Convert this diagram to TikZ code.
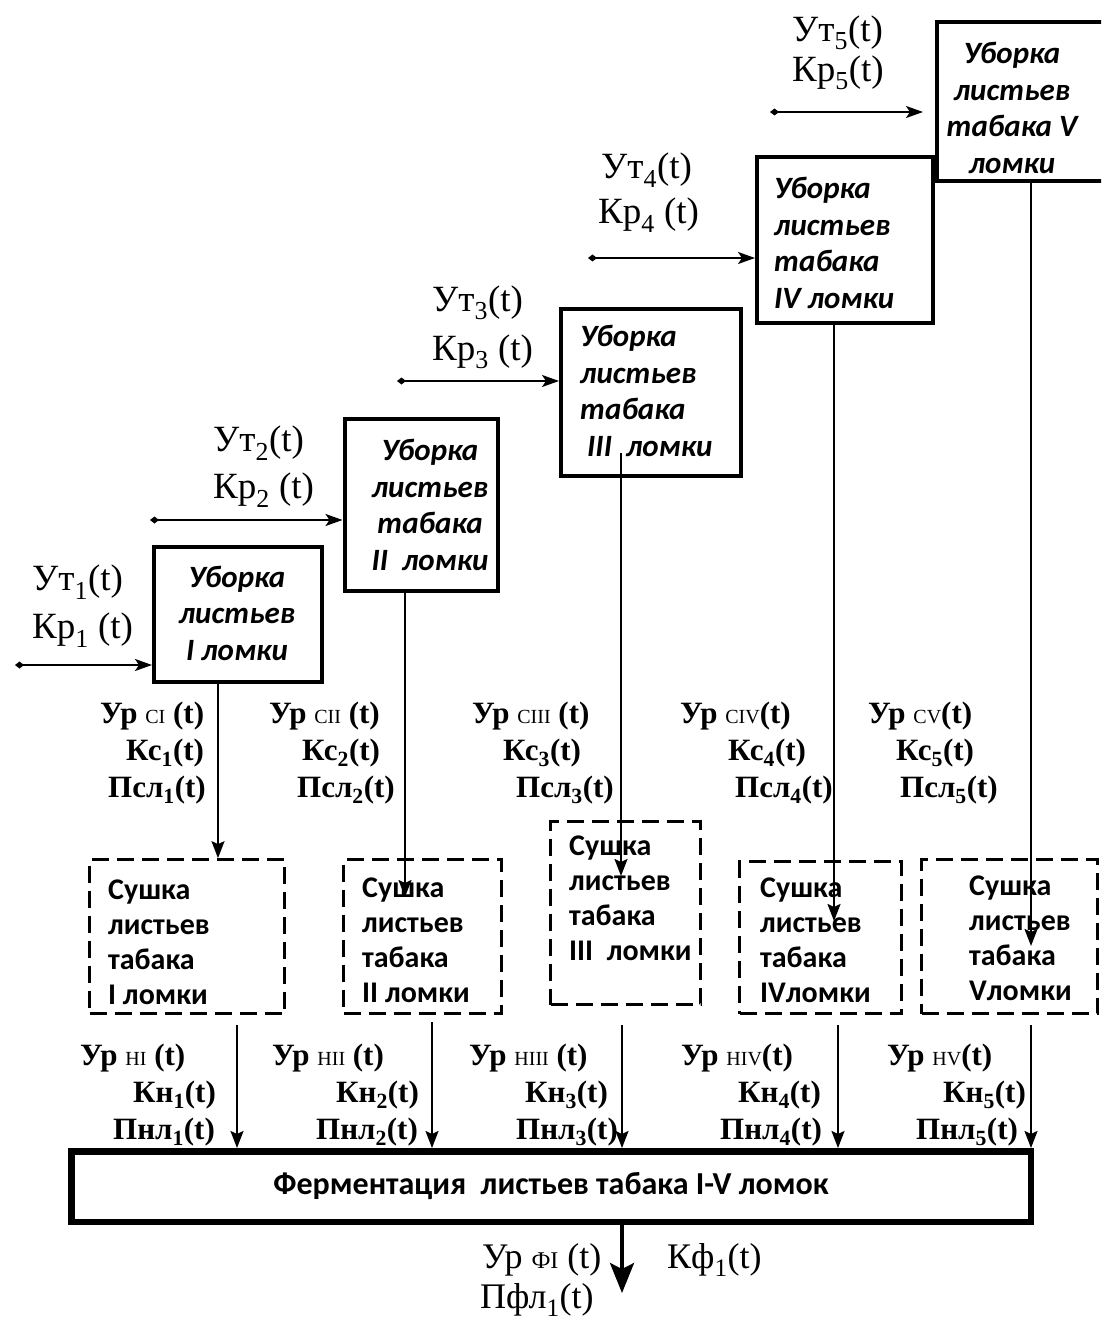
\documentclass[tikz,border=0pt]{standalone}
\usepackage{fontspec}
\setmainfont{Liberation Serif}
\newfontfamily\carlito{Carlito}
\usetikzlibrary{arrows.meta}
\newcommand\idx[1]{{\fontsize{20}{20}\selectfont\mdseries #1}}
\newcommand\oidx[1]{{\fontsize{24}{24}\selectfont\mdseries #1}}
\newcommand\sbs[1]{\textsubscript{#1}}
\begin{document}
\begin{tikzpicture}[x=1pt,y=-1pt,
  ubox/.style={draw, line width=4pt, inner sep=0pt},
  dbox/.style={draw, line width=2.7pt, dash pattern=on 17pt off 8pt, inner sep=0pt},
  fbox/.style={draw, line width=6.5pt, inner sep=0pt},
  btxt/.style={font=\carlito\bfseries\itshape\fontsize{31}{36.5}\selectfont, inner sep=0pt},
  dtxt/.style={font=\carlito\bfseries\fontsize{30}{35}\selectfont, align=left, inner sep=0pt},
  inlab/.style={font=\fontsize{37}{37}\selectfont, anchor=west, inner sep=0pt},
  mlab/.style={font=\bfseries\fontsize{31}{31}\selectfont, anchor=west, inner sep=0pt},
  olab/.style={font=\fontsize{36}{36}\selectfont, anchor=west, inner sep=0pt},
  conn/.style={line width=2pt, -{Stealth[length=17pt,width=13pt,inset=3pt]}},
  inarr/.style={line width=2pt, {Diamond[length=9pt,width=7pt]}-{Stealth[length=17pt,width=12pt,inset=4pt]}},
  outarr/.style={line width=3.5pt, -{Stealth[length=30pt,width=24pt,inset=6pt]}}
]
\useasboundingbox (0,0) rectangle (1101,1321);
\clip (0,0) rectangle (1101,1321);

% upper boxes (harvesting)
\node[ubox, minimum width=168pt, minimum height=135pt] (b1) at (238,614.5) {};
\node[ubox, minimum width=153pt, minimum height=172pt] (b2) at (421,505) {};
\node[ubox, minimum width=180pt, minimum height=167pt] (b3) at (651,392.5) {};
\node[ubox, minimum width=176pt, minimum height=166pt] (b4) at (845,240) {};
\node[ubox, minimum width=191pt, minimum height=159pt] (b5) at (1032.5,101.5) {};

\node[btxt, align=center] (t1) at (237,613) {Уборка\\листьев\\I ломки};
\node[btxt, align=center] (t2) at (430,505) {Уборка\\листьев\\табака\\II\ \ ломки};
\node[btxt, align=left, anchor=west] (t3) at (580,391) {Уборка\\листьев\\табака\\\ III\ \ ломки};
\node[btxt, align=left, anchor=west] (t4) at (774,243) {Уборка\\листьев\\табака\\IV ломки};
\node[btxt, align=center] (t5) at (1012,108) {Уборка\\листьев\\табака V\\ломки};

% input labels
\node[inlab] (u1) at (32,582) {Ут\sbs{1}(t)};
\node[inlab] (k1) at (32,630) {Кр\sbs{1} (t)};
\node[inlab] (u2) at (213,443) {Ут\sbs{2}(t)};
\node[inlab] (k2) at (213,490) {Кр\sbs{2} (t)};
\node[inlab] (u3) at (432,303) {Ут\sbs{3}(t)};
\node[inlab] (k3) at (432,352) {Кр\sbs{3} (t)};
\node[inlab] (u4) at (601,170) {Ут\sbs{4}(t)};
\node[inlab] (k4) at (598,215) {Кр\sbs{4} (t)};
\node[inlab] (u5) at (792,33) {Ут\sbs{5}(t)};
\node[inlab] (k5) at (792,73) {Кр\sbs{5}(t)};

% input arrows
\coordinate (i1) at (15,665);
\coordinate (i2) at (150,520);
\coordinate (i3) at (397,381);
\coordinate (i4) at (588,258);
\coordinate (i5) at (770,112);
\draw[inarr] (i1) -- (i1 -| b1.west);
\draw[inarr] (i2) -- (i2 -| b2.west);
\draw[inarr] (i3) -- (i3 -| b3.west);
\draw[inarr] (i4) -- (i4 -| b4.west);
\draw[inarr, shorten >=12pt] (i5) -- (i5 -| b5.west);

% dashed boxes (drying)
\node[dbox, minimum width=195pt, minimum height=154pt] (d1) at (187,936.5) {};
\node[dbox, minimum width=158pt, minimum height=154pt] (d2) at (422.5,936.5) {};
\node[dbox, minimum width=150pt, minimum height=183pt] (d3) at (625.5,913) {};
\node[dbox, minimum width=162pt, minimum height=152pt] (d4) at (820.5,937.5) {};
\node[dbox, minimum width=176pt, minimum height=154pt] (d5) at (1009.5,936.5) {};

\node[dtxt, anchor=west] (s1) at (108,942) {Сушка\\листьев\\табака\\I ломки};
\node[dtxt, anchor=west] (s2) at (362,940) {Сушка\\листьев\\табака\\II ломки};
\node[dtxt, anchor=west] (s3) at (569,898) {Сушка\\листьев\\табака\\III\ \ ломки};
\node[dtxt, anchor=west] (s4) at (760,940) {Сушка\\листьев\\табака\\IVломки};
\node[dtxt, anchor=west] (s5) at (969,938) {Сушка\\листьев\\табака\\Vломки};

% middle labels
\node[mlab] (m11) at (100,716) {Ур \idx{СI} (t)};
\node[mlab] (m12) at (126,753) {Кс\sbs{1}(t)};
\node[mlab] (m13) at (108,790) {Псл\sbs{1}(t)};
\node[mlab] (m21) at (269,716) {Ур \idx{СII} (t)};
\node[mlab] (m22) at (302,753) {Кс\sbs{2}(t)};
\node[mlab] (m23) at (297,790) {Псл\sbs{2}(t)};
\node[mlab] (m31) at (472,716) {Ур \idx{СIII} (t)};
\node[mlab] (m32) at (503,753) {Кс\sbs{3}(t)};
\node[mlab] (m33) at (516,790) {Псл\sbs{3}(t)};
\node[mlab] (m41) at (680,716) {Ур \idx{СIV}(t)};
\node[mlab] (m42) at (728,753) {Кс\sbs{4}(t)};
\node[mlab] (m43) at (735,790) {Псл\sbs{4}(t)};
\node[mlab] (m51) at (868,716) {Ур \idx{СV}(t)};
\node[mlab] (m52) at (896,753) {Кс\sbs{5}(t)};
\node[mlab] (m53) at (900,790) {Псл\sbs{5}(t)};

% connectors harvesting -> drying
\coordinate (e1) at (218,0);
\coordinate (e2) at (405,897);
\coordinate (g3) at (621,453);
\coordinate (e3) at (621,876);
\coordinate (e4) at (834,921);
\coordinate (e5) at (1031,946);
\draw[conn] (b1.south -| e1) -- (d1.north -| e1);
\draw[conn] (b2.south -| e2) -- (e2);
\draw[conn] (g3) -- (e3);
\draw[conn] (b4.south -| e4) -- (e4);
\draw[conn] (b5.south -| e5) -- (e5);

% fermentation box
\node[fbox, minimum width=959.5pt, minimum height=70.5pt,
      font=\carlito\bfseries\fontsize{32}{32}\selectfont] (f) at (551,1186.5)
      {Ферментация\ \ листьев табака I-V ломок};

% bottom labels
\node[mlab] (n11) at (80,1058) {Ур \idx{НI} (t)};
\node[mlab] (n12) at (133,1095) {Кн\sbs{1}(t)};
\node[mlab] (n13) at (113,1132) {Пнл\sbs{1}(t)};
\node[mlab] (n21) at (272,1058) {Ур \idx{НII} (t)};
\node[mlab] (n22) at (336,1095) {Кн\sbs{2}(t)};
\node[mlab] (n23) at (316,1132) {Пнл\sbs{2}(t)};
\node[mlab] (n31) at (469,1058) {Ур \idx{НIII} (t)};
\node[mlab] (n32) at (525,1095) {Кн\sbs{3}(t)};
\node[mlab] (n33) at (516,1132) {Пнл\sbs{3}(t)};
\node[mlab] (n41) at (681,1058) {Ур \idx{НIV}(t)};
\node[mlab] (n42) at (738,1095) {Кн\sbs{4}(t)};
\node[mlab] (n43) at (720,1132) {Пнл\sbs{4}(t)};
\node[mlab] (n51) at (887,1058) {Ур \idx{НV}(t)};
\node[mlab] (n52) at (943,1095) {Кн\sbs{5}(t)};
\node[mlab] (n53) at (916,1132) {Пнл\sbs{5}(t)};

% connectors drying -> fermentation
\coordinate (h1) at (237,1025);
\coordinate (h2) at (432,1022);
\coordinate (h3) at (622,1025);
\coordinate (h4) at (838,1025);
\coordinate (h5) at (1031,1025);
\draw[conn] (h1) -- (h1 |- f.north);
\draw[conn] (h2) -- (h2 |- f.north);
\draw[conn] (h3) -- (h3 |- f.north);
\draw[conn] (h4) -- (h4 |- f.north);
\draw[conn] (h5) -- (h5 |- f.north);

% output
\coordinate (o) at (622,1293);
\draw[outarr] (f.south -| o) -- (o);
\node[olab] (o1) at (482,1260) {Ур \oidx{ФI} (t)};
\node[olab] (o2) at (667,1260) {Кф\sbs{1}(t)};
\node[olab] (o3) at (480,1300) {Пфл\sbs{1}(t)};
\end{tikzpicture}
\end{document}
